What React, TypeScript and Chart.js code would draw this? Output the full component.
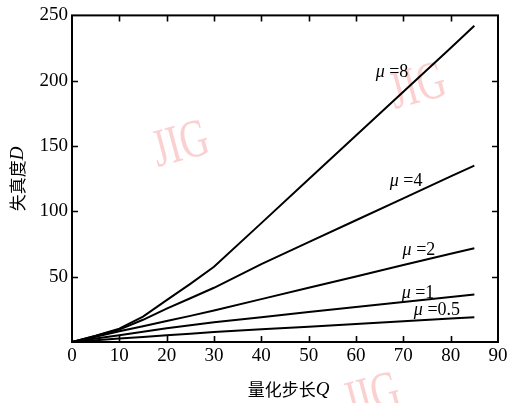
import React, { useEffect, useRef } from "react";
import { Chart, registerables } from "chart.js";
Chart.register(...registerables);

// Quantization step Q
const Q = [0, 5, 10, 15, 20, 25, 30, 40, 50, 60, 70, 80, 85];
// Distortion D for each mu
const mu8 = [0, 4.8, 10.2, 19.5, 32, 44.5, 57.6, 91, 124.5, 158, 191.5, 225, 242];
const mu4 = [0, 4.7, 9.5, 17, 25.5, 33.5, 41.5, 59.6, 76.4, 93.2, 110, 126.8, 135];
const mu2 = [0, 4, 8.2, 12, 16, 20, 24.1, 32.8, 41.5, 50.2, 58.9, 67.5, 71.8];
const mu1 = [0, 2.6, 5.2, 7.9, 10.5, 12.9, 15.2, 19, 22.9, 26.8, 30.6, 34.5, 36.4];
const mu05 = [0, 1.3, 2.6, 3.9, 5.2, 6.4, 7.6, 9.7, 11.7, 13.8, 15.8, 17.9, 18.9];

const seriesNames = ["8", "4", "2", "1", "0.5"];
const labelQ = [67.6, 70.6, 73.3, 73.1, 77.1];
const labelD = [206.6, 122.8, 70.4, 37.4, 24];

const xTicks = [0, 10, 20, 30, 40, 50, 60, 70, 80, 90];
const yTicks = [0, 50, 100, 150, 200, 250];

const xTitle = "量化步长";
const xTitleVar = "Q";
const yTitle = "失真度";
const yTitleVar = "D";
const watermark = "JIG";

const SERIF = "'Liberation Serif', 'Times New Roman', serif";
const CJK = "'Noto Sans CJK SC', sans-serif";

function drawMixed(ctx: CanvasRenderingContext2D, parts: [string, string][], cx: number, cy: number) {
  let total = 0;
  const widths: number[] = [];
  for (const [t, f] of parts) {
    ctx.font = f;
    const w = ctx.measureText(t).width;
    widths.push(w);
    total += w;
  }
  let x = cx - total / 2;
  ctx.textAlign = "left";
  ctx.textBaseline = "middle";
  parts.forEach(([t, f], i) => {
    ctx.font = f;
    ctx.fillText(t, x, cy);
    x += widths[i];
  });
}

const decorPlugin = {
  id: "decor",
  beforeDatasetsDraw(chart: any) {
    const ctx: CanvasRenderingContext2D = chart.ctx;
    ctx.save();
    ctx.fillStyle = "rgba(248,170,170,0.55)";
    const marks: [number, number][] = [[181, 146], [418, 88], [372, 398]];
    for (const [x, y] of marks) {
      ctx.save();
      ctx.translate(x, y);
      ctx.rotate(-15 * Math.PI / 180);
      ctx.scale(0.72, 1);
      ctx.font = `54px ${SERIF}`;
      ctx.textAlign = "center";
      ctx.textBaseline = "middle";
      ctx.fillText(watermark, 0, 0);
      ctx.restore();
    }
    ctx.restore();
  },
  afterDraw(chart: any) {
    const ctx: CanvasRenderingContext2D = chart.ctx;
    const { left, right, top, bottom } = chart.chartArea;
    const xs = chart.scales.x;
    const ys = chart.scales.y;
    ctx.save();
    ctx.strokeStyle = "#000";
    ctx.lineWidth = 2;
    ctx.strokeRect(left, top, right - left, bottom - top);
    ctx.lineWidth = 1.6;
    const tl = 6;
    ctx.beginPath();
    for (const v of xTicks) {
      if (v === xTicks[0] || v === xTicks[xTicks.length - 1]) continue;
      const px = Math.round(xs.getPixelForValue(v)) + 0.5;
      ctx.moveTo(px, bottom);
      ctx.lineTo(px, bottom - tl);
      ctx.moveTo(px, top);
      ctx.lineTo(px, top + tl);
    }
    for (const v of yTicks) {
      if (v === yTicks[0] || v === yTicks[yTicks.length - 1]) continue;
      const py = Math.round(ys.getPixelForValue(v)) + 0.5;
      ctx.moveTo(left, py);
      ctx.lineTo(left + tl, py);
      ctx.moveTo(right, py);
      ctx.lineTo(right - tl, py);
    }
    ctx.stroke();

    ctx.fillStyle = "#000";
    seriesNames.forEach((n, i) => {
      const cx = xs.getPixelForValue(labelQ[i]);
      const cy = ys.getPixelForValue(labelD[i]);
      drawMixed(ctx, [["μ", `italic 18px ${SERIF}`], [" =" + n, `18px ${SERIF}`]], cx, cy);
    });

    drawMixed(ctx, [[xTitle, `17px ${CJK}`], [xTitleVar, `italic 19px ${SERIF}`]], 288.5, 389.5);

    ctx.save();
    ctx.translate(17.5, 179);
    ctx.rotate(-Math.PI / 2);
    drawMixed(ctx, [[yTitle, `17px ${CJK}`], [yTitleVar, `italic 19px ${SERIF}`]], 0, 0);
    ctx.restore();
    ctx.restore();
  },
};

export default function App() {
  const ref = useRef<HTMLCanvasElement | null>(null);
  useEffect(() => {
    document.body.style.margin = "0";
    document.body.style.background = "#fff";
    const canvas = ref.current!;
    const mk = (d: number[]) => Q.map((q, i) => ({ x: q, y: d[i] }));
    const all = [mu8, mu4, mu2, mu1, mu05];
    const chart = new Chart(canvas, {
      type: "line",
      data: {
        datasets: all.map((d, i) => ({
          label: "μ=" + seriesNames[i],
          data: mk(d),
          borderColor: "#000",
          borderWidth: 2,
          pointRadius: 0,
          tension: 0,
          fill: false,
        })),
      },
      options: {
        animation: false,
        responsive: false,
        maintainAspectRatio: false,
        layout: { padding: { top: 8, right: 24, left: 0, bottom: 0 } },
        plugins: { legend: { display: false }, tooltip: { enabled: false } },
        scales: {
          x: {
            type: "linear",
            min: 0,
            max: 90,
            afterBuildTicks: (s: any) => { s.ticks = xTicks.map((v) => ({ value: v })); },
            afterFit: (s: any) => { s.height = 61; },
            grid: { display: false, drawTicks: false },
            border: { display: false },
            ticks: { color: "#000", padding: 3, font: { family: SERIF, size: 19 }, maxRotation: 0 },
          },
          y: {
            type: "linear",
            min: 0,
            max: 250,
            afterBuildTicks: (s: any) => { s.ticks = yTicks.map((v) => ({ value: v })); },
            afterFit: (s: any) => { s.width = 72; },
            grid: { display: false, drawTicks: false },
            border: { display: false },
            ticks: {
              color: "#000",
              padding: 4,
              font: { family: SERIF, size: 19 },
              callback: (v: any) => (v === 0 ? "" : String(v)),
            },
          },
        },
      },
      plugins: [decorPlugin],
    } as any);
    return () => chart.destroy();
  }, []);
  return (
    <div style={{ width: 522, height: 403, background: "#fff" }}>
      <canvas ref={ref} width={522} height={403} style={{ display: "block" }} />
    </div>
  );
}
